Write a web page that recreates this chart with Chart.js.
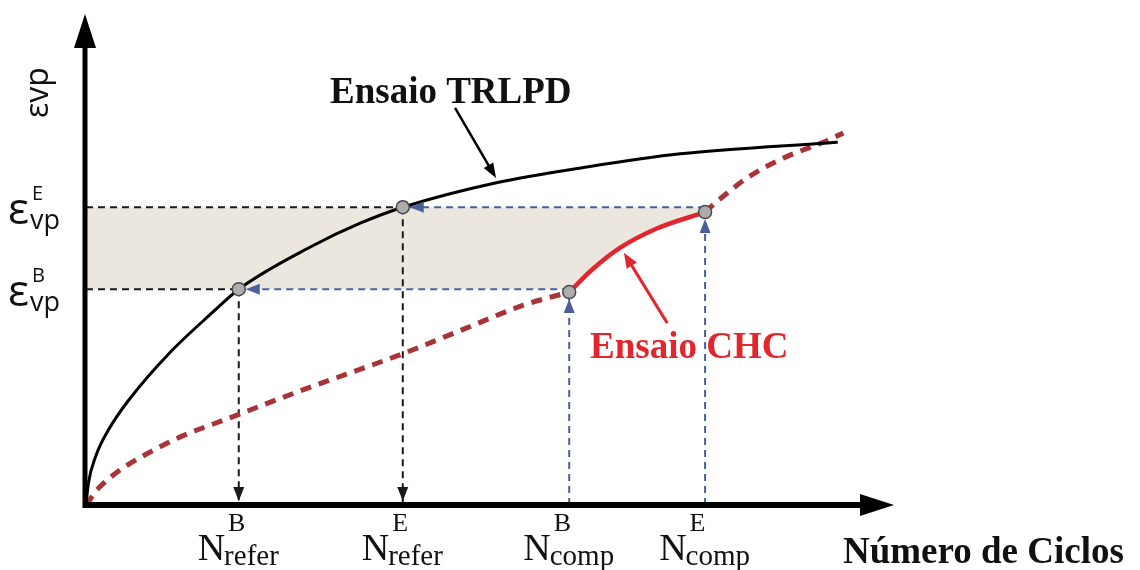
<!DOCTYPE html>
<html>
<head>
<meta charset="utf-8">
<script src="https://cdn.jsdelivr.net/npm/chart.js@4.4.1/dist/chart.umd.min.js"></script>
<style>
  html, body { margin: 0; padding: 0; background: #fff; }
  canvas { display: block; }
</style>
</head>
<body>
<canvas id="chart" width="1140" height="570"></canvas>
<script>
// Ensaio TRLPD (reference curve), relative cycles vs. relative strain
const trlpdX = [0, 0.3, 1.2, 2.8, 5.3, 10.3, 15.8, 19.0, 27.9, 34.1, 39.4, 50.9, 62.3, 73.9, 93.5];
const trlpdY = [0, 4.5, 10, 15.5, 21.6, 31.2, 39.8, 44.5, 53.2, 58.1, 61.4, 66.4, 69.7, 72.4, 74.8];

// Ensaio CHC extrapolated (dashed), before and after the measured part
const chcLowX = [0, 1.7, 9.2, 19.2, 26.6, 39.4, 46.9, 54.4, 60.1];
const chcLowY = [0, 3.7, 12.0, 18.8, 23.5, 31.2, 36.2, 41.2, 43.9];
const chcHighX = [77.0, 78.0, 82.2, 86.7, 91.7, 94.2];
const chcHighY = [60.4, 61.9, 67.4, 71.5, 74.8, 76.7];

// Ensaio CHC measured part (solid)
const chcTestX = [60.1, 63.0, 66.4, 71.0, 77.0];
const chcTestY = [43.9, 48.6, 53.0, 57.0, 60.4];

// strain levels B / E and the cycle counts read on each curve
const epsLevels = [44.5, 61.4];
const epsSup = ['B', 'E'];
const referN = [19.0, 39.4];
const compN = [60.1, 77.0];

// tick labels on the cycles axis
const tickPos = [19.0, 39.4, 60.1, 77.0];
const tickSup = ['B', 'E', 'B', 'E'];
const tickSub = ['refer', 'refer', 'comp', 'comp'];

function pts(xs, ys) {
    return xs.map((v, i) => ({ x: v, y: ys[i] }));
}

function line(data, opts) {
    return Object.assign({
        data: data,
        showLine: true,
        pointRadius: 0,
        borderWidth: 2,
        fill: false,
        tension: 0
    }, opts);
}

const guideBlack = '#1a1a1a';
const guideBlue = '#4a5f9c';
const compEps = [chcTestY[0], chcTestY[chcTestY.length - 1]];

const datasets = [
    // grey band between the two strain levels
    line([{ x: 0, y: epsLevels[1] }, { x: compN[1], y: epsLevels[1] }],
         { borderWidth: 0, backgroundColor: '#ebe6de', fill: { target: 1 }, order: 20 }),
    line([{ x: 0, y: epsLevels[0] }, { x: compN[0], y: epsLevels[0] }].concat(pts(chcTestX, chcTestY).slice(1)),
         { borderWidth: 0, order: 21 }),

    // horizontal guides
    line([{ x: 0, y: epsLevels[0] }, { x: referN[0], y: epsLevels[0] }],
         { borderColor: guideBlack, borderDash: [7, 5], order: 10 }),
    line([{ x: 0, y: epsLevels[1] }, { x: referN[1], y: epsLevels[1] }],
         { borderColor: guideBlack, borderDash: [7, 5], order: 10 }),
    line([{ x: compN[0], y: epsLevels[0] }, { x: referN[0], y: epsLevels[0] }],
         { borderColor: guideBlue, borderDash: [7, 5], order: 10, arrow: guideBlue, arrowGap: 7 }),
    line([{ x: compN[1], y: epsLevels[1] }, { x: referN[1], y: epsLevels[1] }],
         { borderColor: guideBlue, borderDash: [7, 5], order: 10, arrow: guideBlue, arrowGap: 7 }),

    // vertical guides
    line([{ x: referN[0], y: epsLevels[0] }, { x: referN[0], y: 0 }],
         { borderColor: guideBlack, borderDash: [7, 5], order: 10, arrow: guideBlack, arrowGap: 4 }),
    line([{ x: referN[1], y: epsLevels[1] }, { x: referN[1], y: 0 }],
         { borderColor: guideBlack, borderDash: [7, 5], order: 10, arrow: guideBlack, arrowGap: 4 }),
    line([{ x: compN[0], y: 0 }, { x: compN[0], y: compEps[0] }],
         { borderColor: guideBlue, borderDash: [7, 5], order: 10, arrow: guideBlue, arrowGap: 7 }),
    line([{ x: compN[1], y: 0 }, { x: compN[1], y: compEps[1] }],
         { borderColor: guideBlue, borderDash: [7, 5], order: 10, arrow: guideBlue, arrowGap: 7 }),

    // curves
    line(pts(chcLowX, chcLowY),
         { borderColor: '#a8343a', borderWidth: 5, borderDash: [11, 8], cubicInterpolationMode: 'monotone', order: 4 }),
    line(pts(chcHighX, chcHighY),
         { borderColor: '#a8343a', borderWidth: 5, borderDash: [11, 8], cubicInterpolationMode: 'monotone', order: 4 }),
    line(pts(chcTestX, chcTestY),
         { borderColor: '#e3262d', borderWidth: 4.5, cubicInterpolationMode: 'monotone', order: 3 }),
    line(pts(trlpdX, trlpdY),
         { borderColor: '#000', borderWidth: 3, cubicInterpolationMode: 'monotone', order: 2 }),

    // markers
    {
        data: [
            { x: referN[0], y: epsLevels[0] },
            { x: referN[1], y: epsLevels[1] },
            { x: compN[0], y: compEps[0] },
            { x: compN[1], y: compEps[1] }
        ],
        pointRadius: 6.5,
        pointBackgroundColor: '#adadad',
        pointBorderColor: '#4a4a4a',
        pointBorderWidth: 1.5,
        showLine: false,
        order: 0
    }
];

function arrowHead(ctx, tx, ty, dx, dy, len, half, color) {
    const n = Math.hypot(dx, dy) || 1;
    const ux = dx / n, uy = dy / n;
    ctx.fillStyle = color;
    ctx.beginPath();
    ctx.moveTo(tx, ty);
    ctx.lineTo(tx - ux * len - uy * half, ty - uy * len + ux * half);
    ctx.lineTo(tx - ux * len + uy * half, ty - uy * len - ux * half);
    ctx.closePath();
    ctx.fill();
}

function drawN(ctx, cx, sup, sub) {
    ctx.fillStyle = '#111';
    ctx.textAlign = 'left';
    ctx.textBaseline = 'alphabetic';
    ctx.font = '38px "Liberation Serif"';
    const wN = ctx.measureText('N').width;
    ctx.font = '29px "Liberation Serif"';
    const wSub = ctx.measureText(sub).width;
    const left = cx - (wN + wSub) / 2;
    ctx.font = '38px "Liberation Serif"';
    ctx.fillText('N', left, 560);
    ctx.font = '29px "Liberation Serif"';
    ctx.fillText(sub, left + wN - 1, 565);
    ctx.font = '26px "Liberation Serif"';
    ctx.fillText(sup, left + wN + 3, 531);
}

function drawEps(ctx, base, sup) {
    ctx.fillStyle = '#111';
    ctx.textAlign = 'left';
    ctx.textBaseline = 'alphabetic';
    ctx.font = '44px "Open Sans"';
    const w = ctx.measureText('ε').width;
    ctx.fillText('ε', 8, base);
    ctx.font = '27px "Open Sans"';
    ctx.fillText('vp', 8 + w + 1, base + 5);
    ctx.font = '20px "Open Sans"';
    ctx.fillText(sup, 8 + w + 3, base - 24);
}

const sketchPlugin = {
    id: 'sketch',
    afterDatasetsDraw(chart) {
        const ctx = chart.ctx;
        const sx = chart.scales.x, sy = chart.scales.y;
        const area = chart.chartArea;
        const x0 = sx.getPixelForValue(0), y0 = sy.getPixelForValue(0);

        ctx.save();

        // arrowheads on the guide lines
        chart.data.datasets.forEach((ds, i) => {
            if (!ds.arrow) return;
            const pts = chart.getDatasetMeta(i).data;
            const a = pts[pts.length - 2], b = pts[pts.length - 1];
            const dx = b.x - a.x, dy = b.y - a.y;
            const n = Math.hypot(dx, dy);
            const tx = b.x - dx / n * ds.arrowGap, ty = b.y - dy / n * ds.arrowGap;
            arrowHead(ctx, tx, ty, dx, dy, 14, 5.5, ds.arrow);
        });

        // axes
        ctx.strokeStyle = '#000';
        ctx.lineCap = 'butt';
        ctx.lineWidth = 5;
        ctx.beginPath();
        ctx.moveTo(x0 - 1, y0 + 3);
        ctx.lineTo(x0 - 1, area.top + 25);
        ctx.stroke();
        arrowHead(ctx, x0 - 1, area.top - 6, 0, -1, 34, 11, '#000');
        ctx.lineWidth = 6;
        ctx.beginPath();
        ctx.moveTo(x0 - 3, y0);
        ctx.lineTo(area.right - 25, y0);
        ctx.stroke();
        arrowHead(ctx, area.right + 4, y0, 1, 0, 34, 11, '#000');

        // callout arrows to the curves
        ctx.lineWidth = 2.5;
        ctx.strokeStyle = '#000';
        let ax = sx.getPixelForValue(45.9), ay = sy.getPixelForValue(81.9);
        let bx = sx.getPixelForValue(51.0), by = sy.getPixelForValue(67.4);
        ctx.beginPath();
        ctx.moveTo(ax, ay);
        ctx.lineTo(bx - (bx - ax) * 0.15, by - (by - ay) * 0.15);
        ctx.stroke();
        arrowHead(ctx, bx, by, bx - ax, by - ay, 15, 5.5, '#000');

        ctx.lineWidth = 3;
        ctx.strokeStyle = '#e3262d';
        ax = sx.getPixelForValue(72.3); ay = sy.getPixelForValue(37.5);
        bx = sx.getPixelForValue(66.9); by = sy.getPixelForValue(52.0);
        ctx.beginPath();
        ctx.moveTo(ax, ay);
        ctx.lineTo(bx - (bx - ax) * 0.15, by - (by - ay) * 0.15);
        ctx.stroke();
        arrowHead(ctx, bx, by, bx - ax, by - ay, 15, 6, '#e3262d');

        // curve names
        ctx.textAlign = 'left';
        ctx.textBaseline = 'alphabetic';
        ctx.font = 'bold 37px "Liberation Serif"';
        ctx.fillStyle = '#111';
        ctx.fillText('Ensaio TRLPD', 330, 103);
        ctx.fillStyle = '#e3262d';
        ctx.fillText('Ensaio CHC', 590, 358);

        // axis titles
        ctx.fillStyle = '#111';
        ctx.fillText('Número de Ciclos', 843, 563);
        ctx.save();
        ctx.translate(48, 118);
        ctx.rotate(-Math.PI / 2);
        ctx.font = '32px "Open Sans"';
        ctx.fillText('εvp', 0, 0);
        ctx.restore();

        // strain level labels
        epsLevels.forEach((v, i) => drawEps(ctx, sy.getPixelForValue(v) + 17, epsSup[i]));

        // cycle labels
        tickPos.forEach((v, i) => drawN(ctx, sx.getPixelForValue(v), tickSup[i], tickSub[i]));

        ctx.restore();
    }
};

new Chart(document.getElementById('chart'), {
    type: 'scatter',
    data: { datasets: datasets },
    options: {
        responsive: false,
        animation: false,
        events: [],
        layout: { padding: { left: 86, right: 250, top: 20, bottom: 65 } },
        scales: {
            x: { type: 'linear', min: 0, max: 100, display: false },
            y: { type: 'linear', min: 0, max: 100, display: false }
        },
        plugins: {
            legend: { display: false },
            tooltip: { enabled: false }
        }
    },
    plugins: [sketchPlugin]
});
</script>
</body>
</html>
